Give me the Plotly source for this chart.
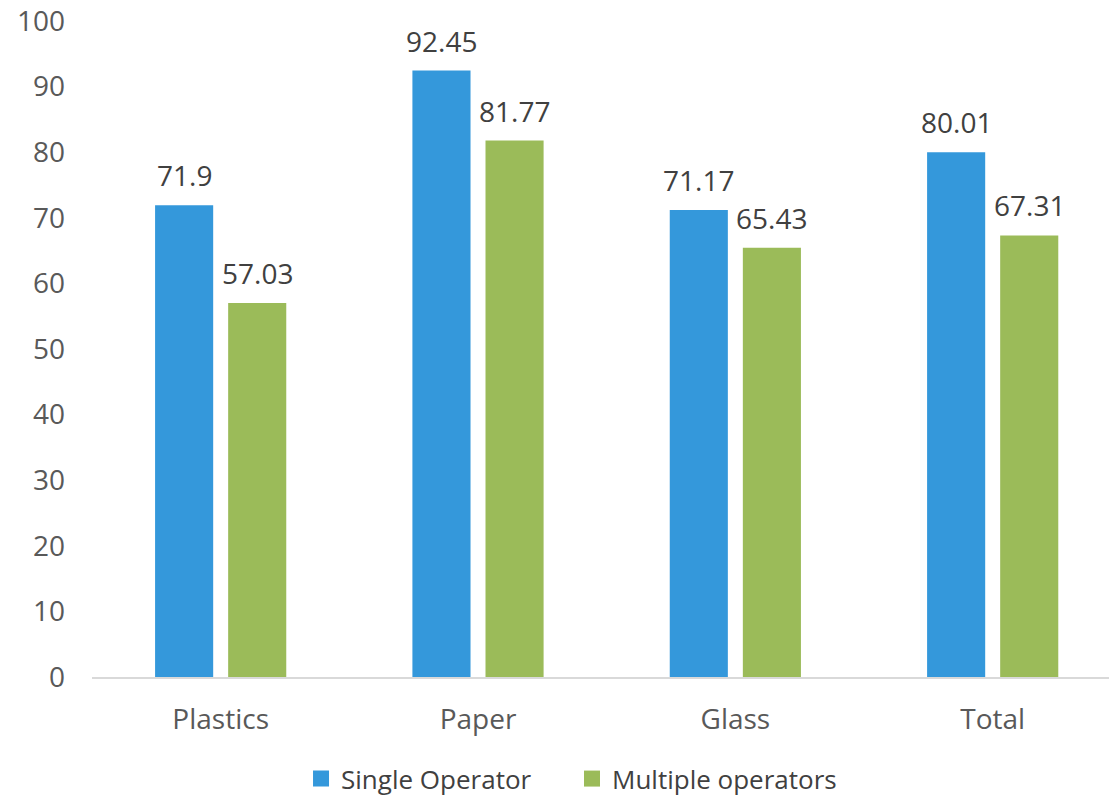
import plotly.graph_objects as go

categories = ["Plastics", "Paper", "Glass", "Total"]
single_operator = [71.9, 92.45, 71.17, 80.01]
multiple_operators = [57.03, 81.77, 65.43, 67.31]
series_names = ["Single Operator", "Multiple operators"]
y_ticks = [0, 10, 20, 30, 40, 50, 60, 70, 80, 90, 100]

BLUE = "#3498DB"
GREEN = "#9BBB59"
FONT = "Open Sans"

fig = go.Figure()
for name, vals, col in ((series_names[0], single_operator, BLUE),
                        (series_names[1], multiple_operators, GREEN)):
    fig.add_trace(go.Bar(x=categories, y=vals, name=name, showlegend=False,
                         marker=dict(color=col, line=dict(width=0))))
# legend entries with larger square swatches
for name, col in ((series_names[0], BLUE), (series_names[1], GREEN)):
    fig.add_trace(go.Scatter(x=[None], y=[None], mode="markers", name=name,
                             marker=dict(symbol="square", size=17, color=col)))

for vals, xs in ((single_operator, -36.5), (multiple_operators, 36.5)):
    for c, v in zip(categories, vals):
        fig.add_annotation(x=c, y=v, text=str(v), showarrow=False, xref="x", yref="y",
                           xshift=xs, yshift=9, yanchor="bottom",
                           font=dict(family=FONT, size=28, color="#404040"))

fig.update_layout(
    width=1109, height=797,
    margin=dict(l=92, r=0, t=21, b=120, autoexpand=False),
    paper_bgcolor="white", plot_bgcolor="white",
    barmode="group", bargap=0.432, bargroupgap=0.205,
    font=dict(family=FONT, size=28, color="#595959"),
    showlegend=True,
    legend=dict(orientation="h", x=0.472, xanchor="center", y=-0.155, yanchor="middle",
                font=dict(family=FONT, size=26, color="#404040"),
                entrywidth=226, entrywidthmode="pixels",
                itemsizing="trace", traceorder="normal"),
    xaxis=dict(range=[-0.5, 3.452], showline=True, linecolor="#D9D9D9", linewidth=2,
               showgrid=False, ticks="", ticklabelstandoff=16,
               tickfont=dict(family=FONT, size=28, color="#595959")),
    yaxis=dict(range=[0, 100], tickvals=y_ticks, showgrid=False, zeroline=False,
               showline=False, ticks="", ticklabelstandoff=26,
               tickfont=dict(family=FONT, size=28, color="#595959")),
)

fig.write_html("out.html")
